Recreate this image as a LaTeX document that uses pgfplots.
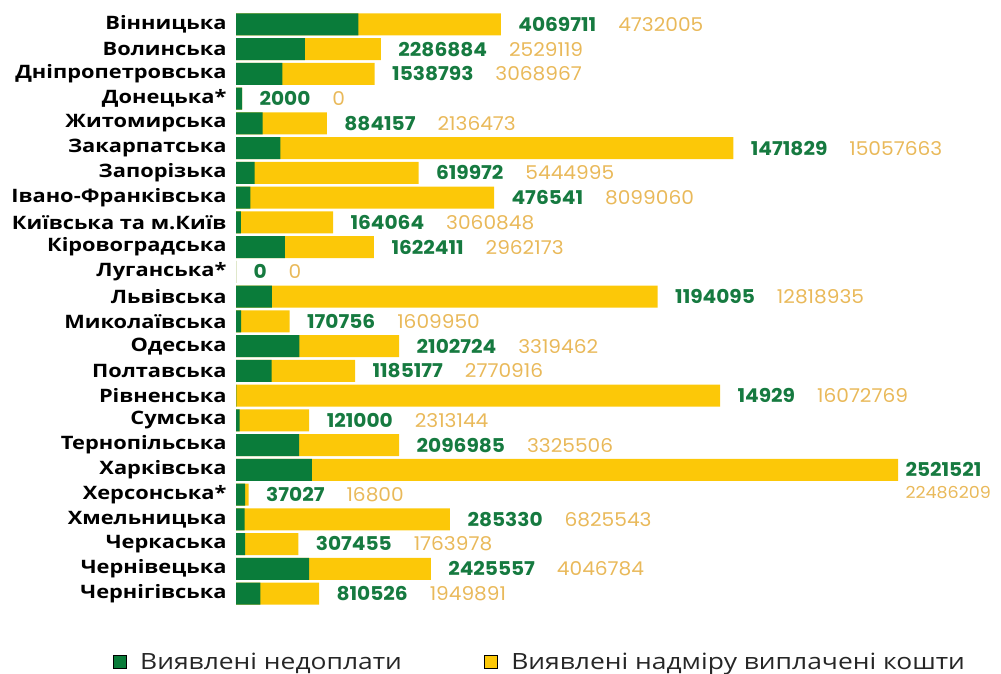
\documentclass[border=0pt]{standalone}
\usepackage{pgfplots}
\pgfplotsset{compat=1.18}
\usepackage{pgfplotstable}
\usepackage{fontspec}
\setmainfont[FakeStretch=1.18]{Open Sans}
\newfontfamily\numfont[FakeStretch=1.06]{Poppins}
\definecolor{bgreen}{RGB}{10,124,58}
\definecolor{byellow}{RGB}{252,200,8}
\definecolor{lgreen}{RGB}{22,122,64}
\definecolor{lyellow}{RGB}{233,185,90}
\protected\def\LB#1#2{\textcolor{lgreen}{\bfseries #1}\hspace{22pt}\textcolor{lyellow}{#2}}
\protected\def\LBB#1#2{\hspace{-10pt}\rlap{\raisebox{-22pt}[0pt][0pt]{\fontsize{16.5}{19}\selectfont\textcolor{lyellow}{#2}}}\textcolor{lgreen}{\bfseries #1}}

% gb, tb: bar ends (millions, as drawn); lab: printed values (green, yellow)
\pgfplotstableread[col sep=comma]{
gb,tb,lab
4.070,8.802,\LB{4069711}{4732005}
2.287,4.816,\LB{2286884}{2529119}
1.539,4.608,\LB{1538793}{3068967}
0.200,0.200,\LB{2000}{0}
0.884,3.021,\LB{884157}{2136473}
1.472,16.529,\LB{1471829}{15057663}
0.620,6.065,\LB{619972}{5444995}
0.477,8.576,\LB{476541}{8099060}
0.164,3.225,\LB{164064}{3060848}
1.622,4.585,\LB{1622411}{2962173}
0.000,0.000,\LB{0}{0}
1.194,14.013,\LB{1194095}{12818935}
0.171,1.781,\LB{170756}{1609950}
2.103,5.422,\LB{2102724}{3319462}
1.185,3.956,\LB{1185177}{2770916}
0.015,16.088,\LB{14929}{16072769}
0.121,2.434,\LB{121000}{2313144}
2.097,5.422,\LB{2096985}{3325506}
2.522,22.000,\LBB{2521521}{22486209}
0.300,0.420,\LB{37027}{16800}
0.285,7.111,\LB{285330}{6825543}
0.307,2.071,\LB{307455}{1763978}
2.426,6.472,\LB{2425557}{4046784}
0.811,2.760,\LB{810526}{1949891}
}\data

\begin{document}
\begin{tikzpicture}[x=1pt,y=1pt]
\useasboundingbox (0,0) rectangle (1001,673);
\begin{axis}[
  at={(236pt,67.1pt)}, anchor=south west,
  scale only axis, width=662pt, height=593.8pt,
  xmin=0, xmax=22.0, ymin=-0.5, ymax=23.5, y dir=reverse,
  clip=false,
  axis line style={draw=none},
  major tick length=0pt,
  xtick=\empty,
  ytick={0,...,23},
  yticklabels={Вінницька,Волинська,Дніпропетровська,Донецька*,Житомирська,Закарпатська,Запорізька,Івано-Франківська,Київська та м.Київ,Кіровоградська,Луганська*,Львівська,Миколаївська,Одеська,Полтавська,Рівненська,Сумська,Тернопільська,Харківська,Херсонська*,Хмельницька,Черкаська,Чернівецька,Чернігівська},
  yticklabel style={font=\bfseries\fontsize{18.5}{20}\selectfont, text=black, anchor=east, xshift=-6pt},
  legend image code/.code={\fill[#1] (0pt,-6.5pt) rectangle (13pt,6.5pt);},
  legend style={legend columns=2, draw=none, fill=none,
    at={(-0.191,-0.0945)}, anchor=west,
    font=\fontsize{22.4}{26}\selectfont, text=black!85,
    /tikz/every odd column/.append style={column sep=12pt},
    /tikz/every even column/.append style={column sep=80pt}},
]
\addplot[xbar, fill=byellow, draw=none, bar shift=0pt, bar width=22pt,
  point meta=explicit symbolic,
  nodes near coords,
  every node near coord/.append style={anchor=west, xshift=14pt, font=\numfont\fontsize{19}{21}\selectfont},
  forget plot]
  table[x=tb, y expr=\coordindex, meta=lab]{\data};
\addplot[xbar, fill=bgreen, draw=none, bar shift=0pt, bar width=22pt, forget plot]
  table[x=gb, y expr=\coordindex]{\data};
\addlegendimage{fill=bgreen}
\addlegendentry{Виявлені недоплати}
\addlegendimage{fill=byellow}
\addlegendentry{Виявлені надміру виплачені кошти}
\end{axis}
\end{tikzpicture}
\end{document}
